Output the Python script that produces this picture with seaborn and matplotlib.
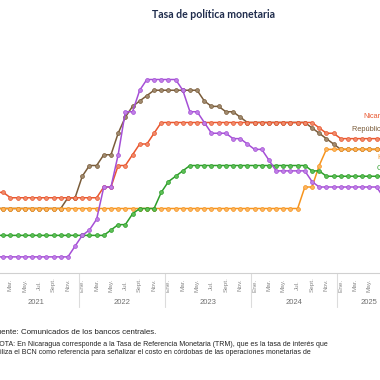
"""Tasa de política monetaria — Centroamérica y República Dominicana."""
import matplotlib
matplotlib.use("Agg")

import pandas as pd
import matplotlib.pyplot as plt
import matplotlib.transforms as mtransforms
import seaborn as sns

W_PX, H_PX = 380, 380
DPI = 100

# monthly data, Jan 2021 .. Jul 2025
MONTHS = pd.date_range("2021-01-01", periods=55, freq="MS")

NICARAGUA = [3.75, 3.75] + [3.5] * 13 + [4.0, 4.0, 5.0, 5.0, 5.5, 6.0, 6.0, 6.5, 7.0] \
    + [7.0] * 21 + [6.75, 6.5, 6.5] + [6.25] * 7
REP_DOMINICANA = [3.0] * 10 + [3.5, 3.5] \
    + [4.5, 5.0, 5.0, 5.5, 5.5, 6.5, 7.25, 7.75, 8.0, 8.25, 8.5] + [8.5] * 6 \
    + [8.0, 7.75, 7.75, 7.5, 7.5, 7.25, 7.0] + [7.0] * 8 \
    + [6.75, 6.5, 6.25, 6.0] + [5.75] * 7
COSTA_RICA = [0.75] * 11 + [1.25, 1.75, 2.0, 2.5] \
    + [4.0, 4.0, 5.5, 7.5, 7.5, 8.5, 9.0] + [9.0] * 4 \
    + [8.5, 7.5, 7.5, 7.0, 6.5, 6.5, 6.5, 6.25, 6.25, 6.0, 5.75, 5.75, 5.25, 4.75] \
    + [4.75] * 4 + [4.25, 4.0] + [4.0] * 8 + [3.5]
GUATEMALA = [1.75] * 16 + [2.0, 2.25, 2.25, 2.75, 3.0, 3.0, 3.0] \
    + [3.75, 4.25, 4.5, 4.75, 5.0] + [5.0] * 16 + [4.75, 4.75, 4.5] + [4.5] * 8
HONDURAS = [3.0] * 43 + [4.0, 4.0, 5.0] + [5.75] * 9

# drawing order (last on top)
SERIES = [
    ("República Dominicana", REP_DOMINICANA, "#7a5c3a", "#a08a6e"),
    ("Nicaragua", NICARAGUA, "#e9572f", "#f08a6a"),
    ("Honduras", HONDURAS, "#f7941d", "#fbb45f"),
    ("Guatemala", GUATEMALA, "#2e9e2b", "#5cbf55"),
    ("Costa Rica", COSTA_RICA, "#a54fd6", "#c07fe6"),
]

MONTH_ABBR = {1: "Ene.", 3: "Mar.", 5: "May.", 7: "Jul.", 9: "Sept.", 11: "Nov."}
YEARS = [2021, 2022, 2023, 2024, 2025]
YEAR_POS = [5.5, 17.5, 29.5, 41.5, 52.0]

TITLE = "Tasa de política monetaria"
FUENTE = "Fuente: Comunicados de los bancos centrales."
NOTA_1 = ("NOTA: En Nicaragua corresponde a la Tasa de Referencia Monetaria (TRM), "
          "que es la tasa de interés que")
NOTA_2 = ("utiliza el BCN como referencia para señalizar el costo en córdobas de las "
          "operaciones monetarias de")

# pixel geometry
X0_PX, MONTH_PX = -3.9, 7.18      # x pixel of Jan 2021 and width of one month
AXIS_Y_PX, UNIT_PX = 273, 21.5    # y pixel of 0 % and pixels per percentage point
TOP_Y_PX = 30


def fy(px):
    return 1 - px / H_PX


def main() -> None:
    sns.set_style("white")
    plt.rcParams["font.family"] = ["Liberation Sans", "DejaVu Sans"]

    idx = (MONTHS.year - 2021) * 12 + MONTHS.month - 1
    frames = []
    for name, vals, _, _ in SERIES:
        frames.append(pd.DataFrame({"pais": name, "mes": idx, "tasa": vals}))
    df = pd.concat(frames, ignore_index=True)

    fig = plt.figure(figsize=(W_PX / DPI, H_PX / DPI), dpi=DPI)
    ax = fig.add_axes([0, fy(AXIS_Y_PX), 1, (AXIS_Y_PX - TOP_Y_PX) / H_PX])

    for name, _, color, face in SERIES:
        sns.lineplot(data=df[df["pais"] == name], x="mes", y="tasa", ax=ax,
                     color=color, linewidth=1.1, marker="o", markersize=2.8,
                     markerfacecolor=face, markeredgecolor=color,
                     markeredgewidth=0.5, legend=False)

    # month ticks
    ticks = [m for m, d in zip(idx, MONTHS) if d.month in MONTH_ABBR]
    labels = [MONTH_ABBR[d.month] for d in MONTHS if d.month in MONTH_ABBR]
    ax.set_xticks(ticks)
    ax.set_xticklabels(labels, rotation=90, fontsize=4.6, color="#8a8a8a")
    for lab in ax.get_xticklabels():
        lab.set_va("center")
    ax.tick_params(axis="x", length=0, pad=8.6)
    ax.set_yticks([])
    ax.set_xlabel("")
    ax.set_ylabel("")

    # year separators and labels
    trans = mtransforms.blended_transform_factory(ax.transData, fig.transFigure)
    for b in [11.5, 23.5, 35.5, 47.5]:
        ax.plot([b, b], [fy(AXIS_Y_PX), fy(307)], color="#dcdcdc", lw=0.8,
                transform=trans, clip_on=False)
    for yr, pos in zip(YEARS, YEAR_POS):
        ax.text(pos, fy(302.5), str(yr), transform=trans, ha="center",
                va="center", fontsize=5.5, color="#6e6e6e")

    left = (0 - X0_PX) / MONTH_PX
    right = (W_PX - X0_PX) / MONTH_PX
    ax.set_xlim(left, right)
    ax.set_ylim(0, (AXIS_Y_PX - TOP_Y_PX) / UNIT_PX)

    for side in ["left", "right", "top"]:
        ax.spines[side].set_visible(False)
    ax.spines["bottom"].set_color("#d0d0d0")
    ax.spines["bottom"].set_linewidth(0.8)

    # series labels at the right edge (cut by the frame, as in the source)
    fig.text(363 / W_PX, fy(117), "Nicaragua", fontsize=5.3, color="#e9572f",
             ha="left", va="center")
    fig.text(352 / W_PX, fy(129), "República Dominicana", fontsize=5.3,
             color="#7a5c3a", ha="left", va="center")
    fig.text(377 / W_PX, fy(157), "Honduras", fontsize=5.3, color="#f7941d",
             ha="left", va="center")
    fig.text(377 / W_PX, fy(168), "Guatemala", fontsize=5.3, color="#2e9e2b",
             ha="left", va="center")

    fig.text(214 / W_PX, fy(15), TITLE, ha="center", va="center", fontsize=7.6,
             fontweight="bold", color="#1f2c4c", family=["Lato", "DejaVu Sans"])

    fig.text(-8.5 / W_PX, fy(332), FUENTE, fontsize=5.7, color="#222222",
             ha="left", va="center")
    fig.text(-6.5 / W_PX, fy(344), NOTA_1, fontsize=5.05, color="#222222",
             ha="left", va="center")
    fig.text(-6.5 / W_PX, fy(352), NOTA_2, fontsize=5.05, color="#222222",
             ha="left", va="center")

    fig.savefig("out.png", dpi=DPI)
    plt.close("all")


if __name__ == "__main__":
    main()
